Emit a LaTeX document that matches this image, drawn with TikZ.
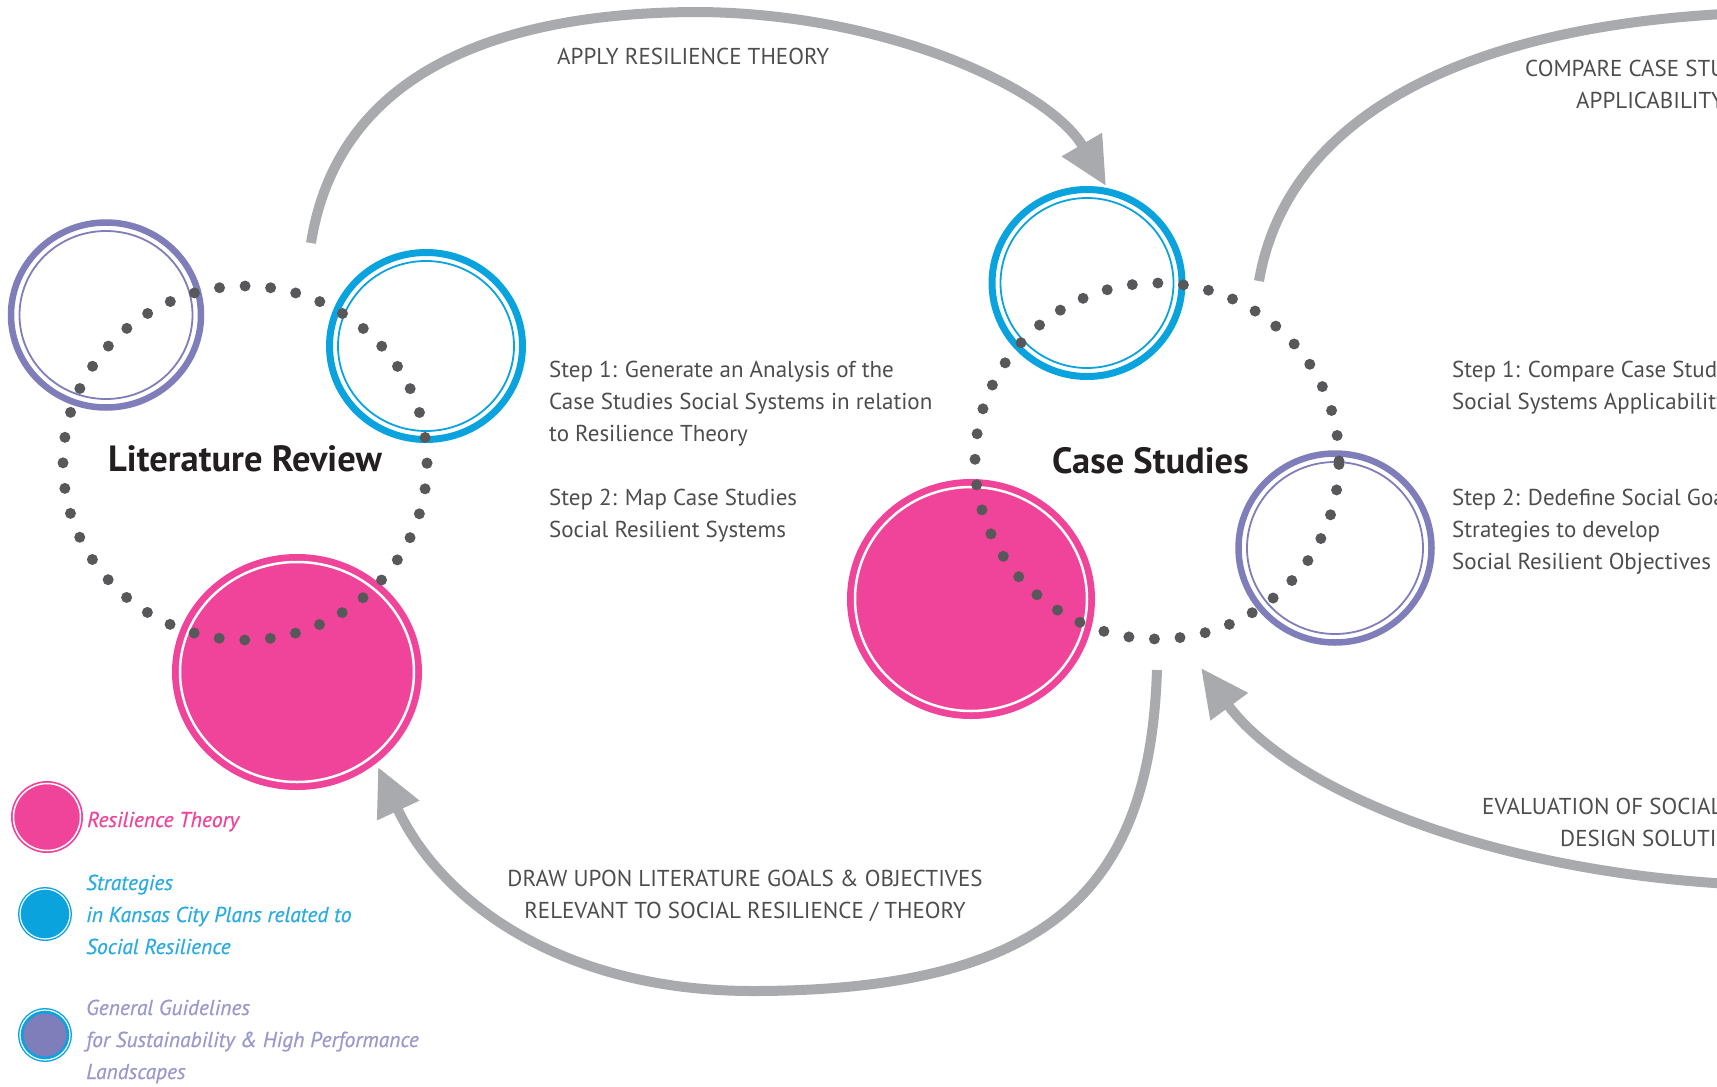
\documentclass[tikz,border=0pt]{standalone}
\usepackage{fontspec}
\setmainfont{PT Sans}
\newfontfamily\legf[FakeBold=0.6]{PT Sans}
\usetikzlibrary{arrows.meta}
\definecolor{pk}{HTML}{EF4499}
\definecolor{bl}{HTML}{0AA3DE}
\definecolor{pu}{HTML}{7F7DBA}
\definecolor{ar}{HTML}{A9AAAD}
\definecolor{dt}{HTML}{58585B}
\definecolor{tx}{HTML}{4D4D4F}
\definecolor{ttl}{HTML}{231F20}
\definecolor{lbl}{HTML}{2BABE2}
\definecolor{lpu}{HTML}{9A98CC}
\tikzset{
  flow/.style={draw=ar, line width=10pt, -{Triangle[length=48pt,width=44pt]}},
  flowplain/.style={draw=ar, line width=10pt},
  dotloop/.style={draw=dt, line width=11pt, line cap=round, dash pattern=on 0pt off 25.63pt},
  steptext/.style={text=tx, font=\fontsize{23}{32}\selectfont, align=left, anchor=base west, inner sep=0pt},
  caplabel/.style={text=tx, font=\fontsize{23}{32}\selectfont, anchor=base west, inner sep=0pt},
  condlabel/.style={text=tx, font=\fontsize{23}{32}\selectfont, anchor=base, inner sep=0pt},
  titletext/.style={text=ttl, font=\bfseries\fontsize{36.5}{40}\selectfont, anchor=base west, inner sep=0pt},
  legtext/.style={font=\legf\itshape\fontsize{21.5}{32}\selectfont, align=left, anchor=base west, inner sep=0pt},
}
\begin{document}
\begin{tikzpicture}[x=1pt,y=-1pt]
\useasboundingbox (0,0) rectangle (1717,1087);
\clip (0,0) rectangle (1717,1087);

% centres
\coordinate (lrP) at (106,315);
\coordinate (lrB) at (426,346);
\coordinate (lrK) at (297,672);
\coordinate (csB) at (1087,283);
\coordinate (csK) at (971,599);
\coordinate (csP) at (1335,548);
\coordinate (lrD) at (245,463);
\coordinate (csD) at (1157,461);

% arrow end points
\coordinate (a1s) at (311,243);
\coordinate (a1e) at (1106,186);
\coordinate (a2s) at (1157,670);
\coordinate (a2e) at (378,767);
\coordinate (a3s) at (1780,886);
\coordinate (a3e) at (1201,668);
\coordinate (a4s) at (1259,281);
\coordinate (a4e) at (1790,12);

% grey flow arrows
\draw[flow] (a1s) .. controls (340,60) and (520,12) .. (700,12) .. controls (890,14) and (1050,90) .. (a1e);
\draw[flow] (a2s) .. controls (1150,880) and (1060,990) .. (756,991) .. controls (560,992) and (440,900) .. (a2e);
\draw[flow] (a3s) .. controls (1500,880) and (1290,790) .. (a3e);
\draw[flowplain] (a4s) .. controls (1290,100) and (1500,14) .. (a4e);

% Literature review circles
\draw[pu, line width=6.5pt] (lrP) ellipse [x radius=95pt, y radius=92.5pt];
\draw[pu, line width=1.8pt] (lrP) ellipse [x radius=86.5pt, y radius=84pt];
\draw[bl, line width=7pt] (lrB) ellipse [x radius=96.5pt, y radius=93.5pt];
\draw[bl, line width=1.8pt] (lrB) ellipse [x radius=88pt, y radius=85pt];
\fill[pk] (lrK) ellipse [x radius=125pt, y radius=118pt];
\draw[white, line width=2.5pt] (lrK) ellipse [x radius=117pt, y radius=110pt];

% Case studies circles
\draw[bl, line width=7pt] (csB) ellipse [x radius=95pt, y radius=93.5pt];
\draw[bl, line width=1.8pt] (csB) ellipse [x radius=86.5pt, y radius=85pt];
\fill[pk] (csK) ellipse [x radius=124pt, y radius=120pt];
\draw[white, line width=2.5pt] (csK) ellipse [x radius=116pt, y radius=112pt];
\draw[pu, line width=6.5pt] (csP) ellipse [x radius=96.5pt, y radius=94.5pt];
\draw[pu, line width=1.8pt] (csP) ellipse [x radius=88pt, y radius=86pt];

% dotted loops
\draw[dotloop] (lrD) ellipse [x radius=182pt, y radius=177pt];
\draw[dotloop] (csD) ellipse [x radius=182pt, y radius=178pt];

% titles
\node[titletext] (lrt) at (108,471) {Literature Review};
\node[titletext] (cst) at (1052,473) {Case Studies};

% step texts (anchored at the baseline of their last line)
\node[steptext] (s1) at (549,441) {Step 1: Generate an Analysis of the\\Case Studies Social Systems in relation\\to Resilience Theory};
\node[steptext] (s2) at (549,537) {Step 2: Map Case Studies\\Social Resilient Systems};
\node[steptext] (r1) at (1452,409) {Step 1: Compare Case Studies\\Social Systems Applicability};
\node[steptext] (r2) at (1452,569) {Step 2: Dedefine Social Goals\\Strategies to develop\\Social Resilient Objectives};

% arrow labels
\node[condlabel, anchor=base west] (l1) at (557,64) {APPLY RESILIENCE THEORY};
\node[condlabel] (l2a) at (745,886) {DRAW UPON LITERATURE GOALS \& OBJECTIVES};
\node[condlabel] (l2b) at (745,918) {RELEVANT TO SOCIAL RESILIENCE / THEORY};
\node[caplabel] (l3a) at (1525,76) {COMPARE CASE STUDIES};
\node[caplabel] (l3b) at (1576,108) {APPLICABILITY};
\node[caplabel] (l4a) at (1482,814) {EVALUATION OF SOCIAL};
\node[caplabel] (l4b) at (1560,846) {DESIGN SOLUTIONS};

% legend
\coordinate (g1) at (47,817);
\coordinate (g2) at (45,914);
\coordinate (g3) at (45,1035);
\fill[pk] (g1) circle [radius=36pt];
\draw[white, line width=1.5pt] (g1) circle [radius=33.5pt];
\fill[bl] (g2) circle [radius=27pt];
\draw[white, line width=1.2pt] (g2) circle [radius=25pt];
\fill[bl] (g3) circle [radius=27pt];
\draw[white, line width=1.2pt] (g3) circle [radius=25pt];
\fill[pu] (g3) circle [radius=21.5pt];
\node[legtext, text=pk] (t1) at (87,827) {Resilience Theory};
\node[legtext, text=lbl] (t2) at (86,954) {Strategies\\in Kansas City Plans related to\\Social Resilience};
\node[legtext, text=lpu] (t3) at (86,1079) {General Guidelines\\for Sustainability \& High Performance\\Landscapes};
\end{tikzpicture}
\end{document}
